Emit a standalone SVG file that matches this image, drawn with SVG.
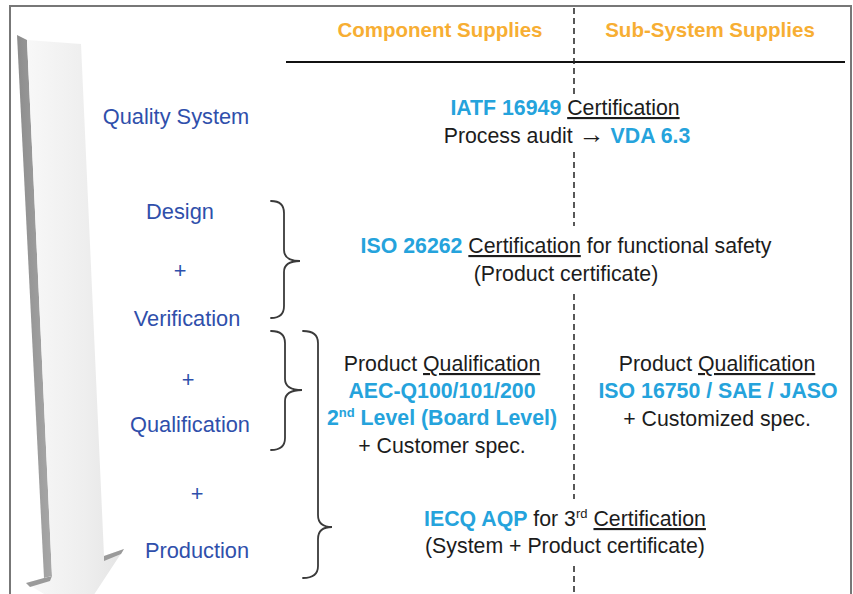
<svg xmlns="http://www.w3.org/2000/svg" width="853" height="594" viewBox="0 0 853 594">
<defs>
<linearGradient id="face" x1="0" y1="0" x2="1" y2="0">
<stop offset="0" stop-color="#f8f8f8"/>
<stop offset="0.6" stop-color="#eeeeee"/>
<stop offset="1" stop-color="#e4e4e4"/>
</linearGradient>
<linearGradient id="side" x1="0" y1="0" x2="1" y2="0">
<stop offset="0" stop-color="#8c8c8c"/>
<stop offset="1" stop-color="#a8a8a8"/>
</linearGradient>
<style>
text{font-family:"Liberation Sans","Noto Sans",Arial,sans-serif;}
.hdr{font-size:20.5px;font-weight:bold;fill:#f7ae33;text-anchor:middle;}
.lbl{font-size:21.8px;fill:#2f4fab;text-anchor:middle;}
.body{font-size:21.3px;fill:#1c1c1c;text-anchor:middle;}
.hl{font-weight:bold;fill:#25a3dc;}
.ul{text-decoration:underline;}
.brace{fill:none;stroke:#3a3a3a;stroke-width:1.8;stroke-linecap:round;}
.dash{stroke:#222;stroke-width:1.5;stroke-dasharray:6 4;}
</style>
</defs>
<rect x="0" y="0" width="853" height="594" fill="#ffffff"/>
<rect id="frame" x="10" y="6" width="841" height="610" fill="none" stroke="#777" stroke-width="2"/>

<g id="arrow">
<polygon points="17,35 27,40 52,576 44,578" fill="url(#side)"/>
<polygon points="27,40 81,44 104,556 124,549 80,616 26,583 52,576" fill="url(#face)"/>
<polygon points="26,583 44,578 52,576 50,581 30,587" fill="#9a9a9a"/>
<polygon points="104,556 124,549 121,554 104,561" fill="#9a9a9a"/>
</g>

<g id="structure">
<line x1="286" y1="62" x2="845" y2="62" stroke="#111" stroke-width="1.8"/>
<line class="dash" x1="574" y1="8" x2="574" y2="96"/>
<line class="dash" x1="574" y1="152" x2="574" y2="226"/>
<line class="dash" x1="574" y1="294" x2="574" y2="499"/>
<line class="dash" x1="574" y1="566" x2="574" y2="594"/>
</g>

<g id="header">
<text class="hdr" x="440" y="37">Component Supplies</text>
<text class="hdr" x="710" y="37">Sub-System Supplies</text>
</g>

<g id="stages">
<text class="lbl" x="176" y="124">Quality System</text>
<text class="lbl" x="180" y="219">Design</text>
<text class="lbl" x="180" y="278">+</text>
<text class="lbl" x="187" y="326">Verification</text>
<text class="lbl" x="188" y="387">+</text>
<text class="lbl" x="190" y="432">Qualification</text>
<text class="lbl" x="197" y="501">+</text>
<text class="lbl" x="197" y="558">Production</text>
</g>

<g id="connectors">
<path class="brace" d="M271,201 Q284,201 284,213 L284,250 Q284,261 300,261 Q284,261 284,272 L284,306 Q284,318 271,318"/>
<path class="brace" d="M271,331 Q285,331 285,343 L285,379 Q285,390 302,390 Q285,390 285,401 L285,438 Q285,450 271,450"/>
<path class="brace" d="M303,331 Q318,331 318,343 L318,515 Q318,527 332,527 Q318,527 318,539 L318,566 Q318,578 303,578"/>
</g>

<g id="quality-system">
<text class="body" x="565" y="115"><tspan class="hl">IATF 16949</tspan> <tspan class="ul">Certification</tspan></text>
<text class="body" x="567" y="143">Process audit <tspan font-weight="bold" font-size="26">→</tspan> <tspan class="hl">VDA 6.3</tspan></text>
</g>

<g id="design-verification">
<text class="body" x="566" y="253"><tspan class="hl">ISO 26262</tspan> <tspan class="ul">Certification</tspan> for functional safety</text>
<text class="body" x="566" y="281">(Product certificate)</text>
</g>

<g id="component-qualification">
<text class="body" x="442" y="371">Product <tspan class="ul">Qualification</tspan></text>
<text class="body hl" x="442" y="398">AEC-Q100/101/200</text>
<text class="body hl" x="442" y="425">2<tspan font-size="13" dy="-8">nd</tspan><tspan dy="8">  Level (Board Level)</tspan></text>
<text class="body" x="442" y="453">+ Customer spec.</text>
</g>

<g id="subsystem-qualification">
<text class="body" x="717" y="371">Product <tspan class="ul">Qualification</tspan></text>
<text class="body hl" x="718" y="398">ISO 16750 / SAE / JASO</text>
<text class="body" x="717" y="426">+ Customized spec.</text>
</g>

<g id="production">
<text class="body" x="565" y="526"><tspan class="hl">IECQ AQP</tspan> for 3<tspan font-size="13" dy="-8">rd</tspan><tspan dy="8"> </tspan><tspan class="ul">Certification</tspan></text>
<text class="body" x="565" y="553">(System + Product certificate)</text>
</g>
</svg>
